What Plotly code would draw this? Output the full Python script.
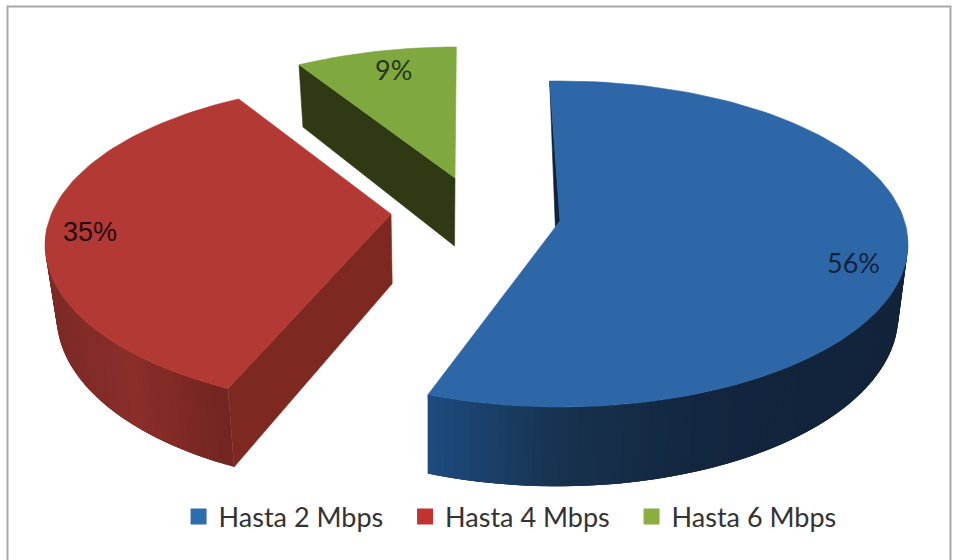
import math
import plotly.graph_objects as go

# data
categories = ["Hasta 2 Mbps", "Hasta 4 Mbps", "Hasta 6 Mbps"]
values = [56, 35, 9]

# colours
top_colors = ["#2e67a8", "#b33934", "#7fa83f"]
legend_colors = ["#2e6cb0", "#c2332f", "#8aae3f"]
wall_colors = ["#16304f", "#7e2822", "#2f3a15"]
label_colors = ["#10233c", "#26090a", "#26361a"]

# projected pie geometry (pixels of the 960x560 page)
RX, RY = 348, 163
centers = [(560, 244), (393, 245), (457, 210)]
apexes = [(560, 221), (391, 214), (455, 178)]
angle_shift = [-1.7, 6.7, 5.4]
angle_scale = [1.012, 0.995, 0.83]
label_pos = [(853, 262), (90, 232), (393, 69)]
label_fonts = ["Lato", "Liberation Sans", "Lato"]
gradient = [
    [(428, "#1e4b80"), (560, "#17324f"), (700, "#13263f"), (900, "#12233a")],
    [(50, "#7c2a26"), (130, "#8b2e2a"), (230, "#722420")],
]


def hex_rgb(c):
    return tuple(int(c[i:i + 2], 16) for i in (1, 3, 5))


def ramp(stops, x):
    if x <= stops[0][0]:
        return stops[0][1]
    for (x0, c0), (x1, c1) in zip(stops, stops[1:]):
        if x <= x1:
            f = (x - x0) / (x1 - x0)
            a, b = hex_rgb(c0), hex_rgb(c1)
            return "#%02x%02x%02x" % tuple(round(p + (q - p) * f) for p, q in zip(a, b))
    return stops[-1][1]


def rim(center, deg):
    r = math.radians(deg)
    return center[0] + RX * math.sin(r), center[1] - RY * math.cos(r)


def drop(p):
    squeeze = 0.97 if p[0] < 430 else 0.98
    return 430 + (p[0] - 430) * squeeze, p[1] + 59 + 0.05 * p[1]


def poly(fig, pts, color, edge=0.6):
    fig.add_trace(go.Scatter(
        x=[p[0] for p in pts] + [pts[0][0]], y=[p[1] for p in pts] + [pts[0][1]],
        mode="lines", fill="toself", fillcolor=color,
        line=dict(color=color, width=edge), hoverinfo="skip", showlegend=False))


fig = go.Figure()
total = sum(values)
spans = []
cum = 0.0
for v, sh, sc in zip(values, angle_shift, angle_scale):
    sweep = v / total * 360
    spans.append((cum + sh, cum + sh + sweep * sc))
    cum += sweep

arcs = []
for i, (a0, a1) in enumerate(spans):
    n = max(8, int((a1 - a0) / 1.5))
    arcs.append([rim(centers[i], a0 + (a1 - a0) * k / n) for k in range(n + 1)])

# outer walls, drawn as overlapping gradient bands
for i in (0, 1):
    pts = arcs[i]
    for k in range(len(pts) - 1):
        p, q = pts[k], pts[k + 1]
        if max(p[1], q[1]) > centers[i][1] - 5:
            far = pts[min(k + 3, len(pts) - 1)]
            band = [p, q, far, drop(far), drop(q), drop(p)]
            poly(fig, band, ramp(gradient[i], (p[0] + q[0]) / 2), edge=0)

# flat walls of the cut edges
red_end = arcs[1][0]
poly(fig, [apexes[1], red_end, drop(red_end), drop(apexes[1])], wall_colors[1])
green_start = arcs[2][0]
poly(fig, [green_start, apexes[2], drop(apexes[2]), drop(green_start)], wall_colors[2])
blue_start, blue_end = arcs[0][0], arcs[0][-1]
notch = (apexes[0][0] + (blue_end[0] - apexes[0][0]) * 0.035,
         apexes[0][1] + (blue_end[1] - apexes[0][1]) * 0.035)
poly(fig, [blue_start, apexes[0], notch], "#0f2238")

# top faces
for i in range(3):
    poly(fig, [apexes[i]] + arcs[i], top_colors[i])

# legend entries
for name, color in zip(categories, legend_colors):
    fig.add_trace(go.Scatter(
        x=[None], y=[None], mode="markers", name=name,
        marker=dict(symbol="square", size=16, color=color)))

# value labels
for v, pos, col, fam in zip(values, label_pos, label_colors, label_fonts):
    fig.add_annotation(x=pos[0], y=pos[1], text=f"{v}%", showarrow=False,
                       font=dict(family=fam, size=27, color=col))

# frame, open at the bottom
fig.add_shape(type="path", path="M 7.5 560 L 7.5 6.5 L 950.5 6.5 L 950.5 560",
              line=dict(color="#a8a8a8", width=2))

fig.update_layout(
    width=960, height=560, margin=dict(l=0, r=0, t=0, b=0),
    paper_bgcolor="white", plot_bgcolor="white",
    xaxis=dict(range=[0, 960], visible=False, fixedrange=True),
    yaxis=dict(range=[560, 0], visible=False, fixedrange=True),
    hovermode=False,
    legend=dict(orientation="h", x=0.186, y=0.077, xanchor="left", yanchor="middle",
                entrywidth=181.5, entrywidthmode="pixels", bgcolor="rgba(0,0,0,0)",
                font=dict(family="Lato", size=27, color="#333333"),
                itemsizing="trace", traceorder="normal"),
)
fig.write_html("out.html", config={"displayModeBar": False},
               post_script="document.body.style.margin='0';")
